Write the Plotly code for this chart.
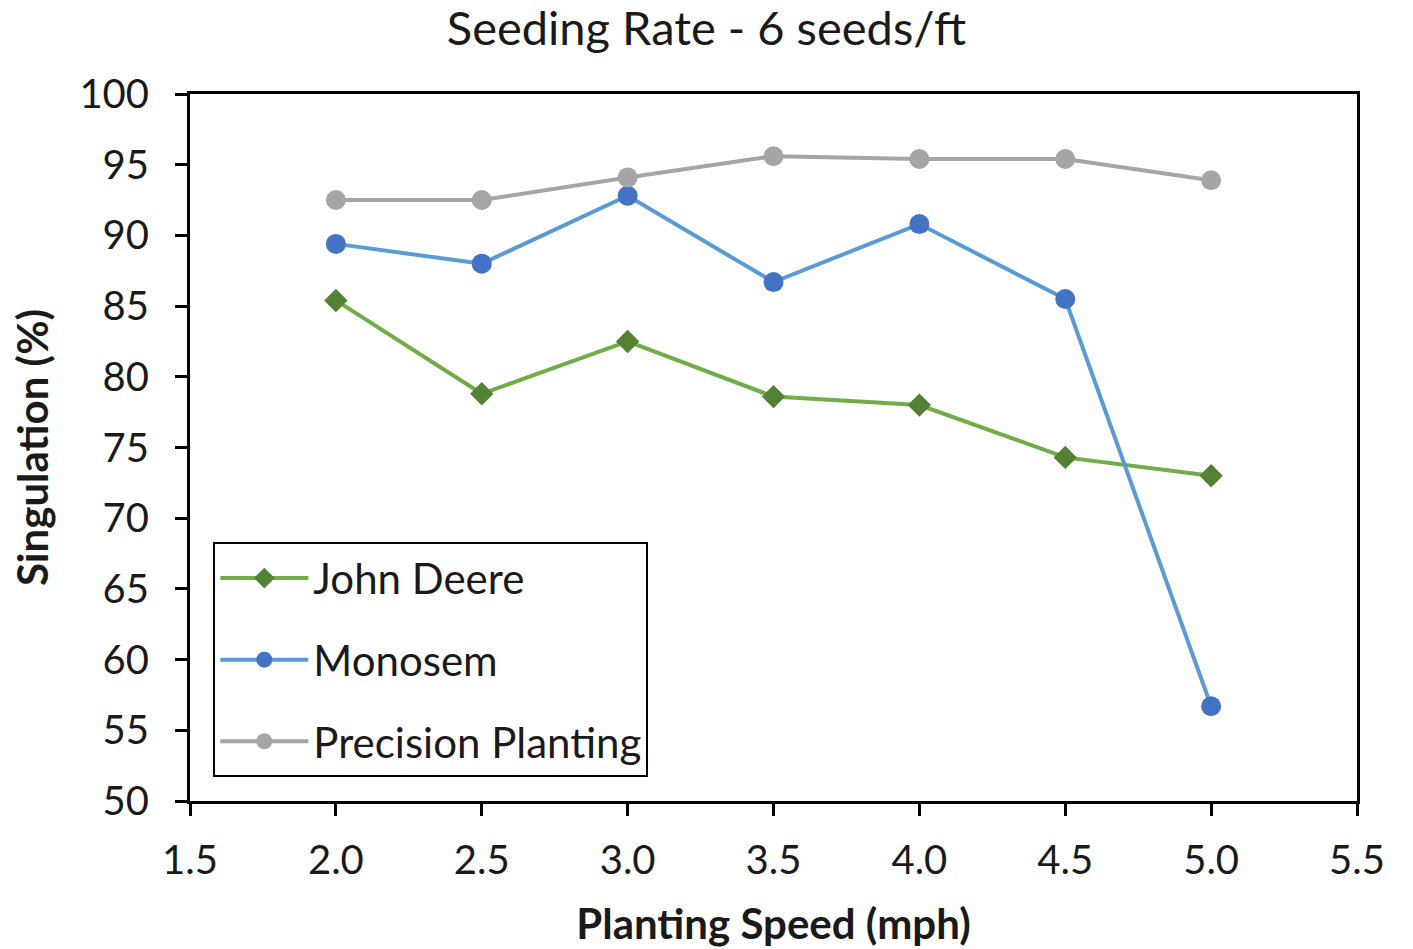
import plotly.graph_objects as go

speeds = [2.0, 2.5, 3.0, 3.5, 4.0, 4.5, 5.0]
john_deere = [85.4, 78.8, 82.5, 78.6, 78.0, 74.3, 73.0]
monosem = [89.4, 88.0, 92.8, 86.7, 90.8, 85.5, 56.7]
precision = [92.5, 92.5, 94.1, 95.6, 95.4, 95.4, 93.9]

FONT = "Lato"

fig = go.Figure()
fig.add_trace(go.Scatter(x=speeds, y=john_deere, name="John Deere", mode="lines+markers",
                         legendgroup="a",
                         line=dict(color="#70AD47", width=4),
                         marker=dict(symbol="diamond", size=18, color="#548235")))
fig.add_trace(go.Scatter(x=speeds, y=monosem, name="Monosem", mode="lines+markers",
                         legendgroup="b",
                         line=dict(color="#5B9BD5", width=4),
                         marker=dict(symbol="circle", size=20, color="#4472C4")))
fig.add_trace(go.Scatter(x=speeds, y=precision, name="Precision Planting", mode="lines+markers",
                         legendgroup="c",
                         line=dict(color="#A5A5A5", width=4),
                         marker=dict(symbol="circle", size=20, color="#A5A5A5")))

fig.update_layout(
    width=1413, height=949,
    margin=dict(l=190, r=56, t=94, b=148),
    paper_bgcolor="white", plot_bgcolor="white",
    font=dict(family=FONT, size=40, color="#1a1a1a"),
    title=dict(text="Seeding Rate - 6 seeds/ft", x=0.5, xref="container", y=0.97, yref="container",
               xanchor="center", yanchor="middle", font=dict(size=47, family=FONT)),
    xaxis=dict(range=[1.5, 5.5], tickvals=[1.5, 2.0, 2.5, 3.0, 3.5, 4.0, 4.5, 5.0, 5.5],
               ticktext=["1.5", "2.0", "2.5", "3.0", "3.5", "4.0", "4.5", "5.0", "5.5"],
               showgrid=False, zeroline=False, showline=True, linecolor="black", linewidth=3,
               mirror=True, ticks="outside", ticklen=12, tickwidth=3, tickcolor="black",
               tickfont=dict(size=40), ticklabelstandoff=10, automargin=False,
               title=dict(text="<b>Planting Speed (mph)</b>", font=dict(size=42), standoff=28)),
    yaxis=dict(range=[50, 100], tickvals=list(range(50, 101, 5)),
               showgrid=False, zeroline=False, showline=True, linecolor="black", linewidth=3,
               mirror=True, ticks="outside", ticklen=12, tickwidth=3, tickcolor="black",
               tickfont=dict(size=40), ticklabelstandoff=18, automargin=False,
               title=dict(text="<b>Singulation (%)</b>", font=dict(size=42), standoff=18)),
    legend=dict(x=0.02, y=0.366, xanchor="left", yanchor="top",
                bordercolor="black", borderwidth=2, bgcolor="white",
                font=dict(size=42), itemwidth=88, tracegroupgap=24),
    showlegend=True,
)

fig.write_html("out.html")
